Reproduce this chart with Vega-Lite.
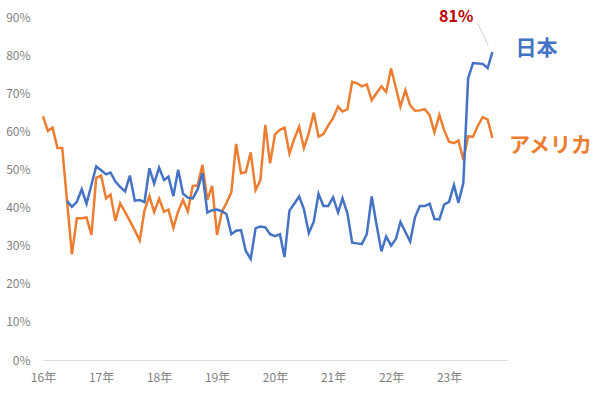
{
  "$schema": "https://vega.github.io/schema/vega-lite/v6.json",
  "width": 464,
  "height": 343,
  "autosize": {"type": "none"},
  "padding": {"left": 43, "top": 17, "right": 93, "bottom": 35},
  "background": "white",
  "config": {"view": {"stroke": null}, "font": "Noto Sans CJK JP"},
  "datasets": {
    "usa": [
      {"date":"2016-01-01","v":63.9},{"date":"2016-02-01","v":60.1},{"date":"2016-03-01","v":61},{"date":"2016-04-01","v":55.6},{"date":"2016-05-01","v":55.6},{"date":"2016-06-01","v":41.5},{"date":"2016-07-01","v":27.7},{"date":"2016-08-01","v":37.2},{"date":"2016-09-01","v":37.2},{"date":"2016-10-01","v":37.4},{"date":"2016-11-01","v":32.8},{"date":"2016-12-01","v":47.8},
      {"date":"2017-01-01","v":48.4},{"date":"2017-02-01","v":42.4},{"date":"2017-03-01","v":43.4},{"date":"2017-04-01","v":36.5},{"date":"2017-05-01","v":41.1},{"date":"2017-06-01","v":38.8},{"date":"2017-07-01","v":36.5},{"date":"2017-08-01","v":34},{"date":"2017-09-01","v":31.4},{"date":"2017-10-01","v":39.2},{"date":"2017-11-01","v":43},{"date":"2017-12-01","v":38.8},
      {"date":"2018-01-01","v":42.3},{"date":"2018-02-01","v":38.9},{"date":"2018-03-01","v":39.5},{"date":"2018-04-01","v":34.7},{"date":"2018-05-01","v":39},{"date":"2018-06-01","v":42},{"date":"2018-07-01","v":39},{"date":"2018-08-01","v":45.7},{"date":"2018-09-01","v":45.8},{"date":"2018-10-01","v":51.2},{"date":"2018-11-01","v":42},{"date":"2018-12-01","v":45.7},
      {"date":"2019-01-01","v":32.8},{"date":"2019-02-01","v":38.9},{"date":"2019-03-01","v":41.2},{"date":"2019-04-01","v":44},{"date":"2019-05-01","v":56.7},{"date":"2019-06-01","v":49},{"date":"2019-07-01","v":49.3},{"date":"2019-08-01","v":54.5},{"date":"2019-09-01","v":44.6},{"date":"2019-10-01","v":47.2},{"date":"2019-11-01","v":61.7},{"date":"2019-12-01","v":51.6},
      {"date":"2020-01-01","v":59.2},{"date":"2020-02-01","v":60.4},{"date":"2020-03-01","v":61},{"date":"2020-04-01","v":54.2},{"date":"2020-05-01","v":58},{"date":"2020-06-01","v":61.2},{"date":"2020-07-01","v":55.6},{"date":"2020-08-01","v":59.5},{"date":"2020-09-01","v":64.9},{"date":"2020-10-01","v":58.6},{"date":"2020-11-01","v":59.3},{"date":"2020-12-01","v":61.5},
      {"date":"2021-01-01","v":63.5},{"date":"2021-02-01","v":66.5},{"date":"2021-03-01","v":65.2},{"date":"2021-04-01","v":65.8},{"date":"2021-05-01","v":73},{"date":"2021-06-01","v":72.6},{"date":"2021-07-01","v":71.8},{"date":"2021-08-01","v":72.3},{"date":"2021-09-01","v":68.2},{"date":"2021-10-01","v":70},{"date":"2021-11-01","v":71.8},{"date":"2021-12-01","v":70.3},
      {"date":"2022-01-01","v":76.5},{"date":"2022-02-01","v":71.3},{"date":"2022-03-01","v":66.5},{"date":"2022-04-01","v":70.8},{"date":"2022-05-01","v":66.8},{"date":"2022-06-01","v":65.4},{"date":"2022-07-01","v":65.5},{"date":"2022-08-01","v":65.8},{"date":"2022-09-01","v":64.2},{"date":"2022-10-01","v":59.7},{"date":"2022-11-01","v":64.3},{"date":"2022-12-01","v":60.3},
      {"date":"2023-01-01","v":57.3},{"date":"2023-02-01","v":56.9},{"date":"2023-03-01","v":57.6},{"date":"2023-04-01","v":52.5},{"date":"2023-05-01","v":58.7},{"date":"2023-06-01","v":58.6},{"date":"2023-07-01","v":61.4},{"date":"2023-08-01","v":63.7},{"date":"2023-09-01","v":63.1},{"date":"2023-10-01","v":58.3}
    ],
    "japan": [
      {"date":"2016-06-01","v":41.7},{"date":"2016-07-01","v":40.2},{"date":"2016-08-01","v":41.5},{"date":"2016-09-01","v":44.8},{"date":"2016-10-01","v":41},{"date":"2016-11-01","v":46},{"date":"2016-12-01","v":50.8},
      {"date":"2017-01-01","v":49.8},{"date":"2017-02-01","v":48.7},{"date":"2017-03-01","v":49.2},{"date":"2017-04-01","v":46.8},{"date":"2017-05-01","v":45.4},{"date":"2017-06-01","v":44.2},{"date":"2017-07-01","v":48.4},{"date":"2017-08-01","v":41.8},{"date":"2017-09-01","v":42},{"date":"2017-10-01","v":41.4},{"date":"2017-11-01","v":50.3},{"date":"2017-12-01","v":46.3},
      {"date":"2018-01-01","v":50.5},{"date":"2018-02-01","v":47.2},{"date":"2018-03-01","v":48.1},{"date":"2018-04-01","v":43},{"date":"2018-05-01","v":49.9},{"date":"2018-06-01","v":43.6},{"date":"2018-07-01","v":42.6},{"date":"2018-08-01","v":42.4},{"date":"2018-09-01","v":44.8},{"date":"2018-10-01","v":49},{"date":"2018-11-01","v":38.7},{"date":"2018-12-01","v":39.3},
      {"date":"2019-01-01","v":39.5},{"date":"2019-02-01","v":39},{"date":"2019-03-01","v":38.3},{"date":"2019-04-01","v":33},{"date":"2019-05-01","v":33.9},{"date":"2019-06-01","v":34.1},{"date":"2019-07-01","v":28.6},{"date":"2019-08-01","v":26.5},{"date":"2019-09-01","v":34.6},{"date":"2019-10-01","v":35},{"date":"2019-11-01","v":34.8},{"date":"2019-12-01","v":33},
      {"date":"2020-01-01","v":32.5},{"date":"2020-02-01","v":33},{"date":"2020-03-01","v":27},{"date":"2020-04-01","v":39.2},{"date":"2020-05-01","v":41},{"date":"2020-06-01","v":42.9},{"date":"2020-07-01","v":39.6},{"date":"2020-08-01","v":33.3},{"date":"2020-09-01","v":36.3},{"date":"2020-10-01","v":43.6},{"date":"2020-11-01","v":40.4},{"date":"2020-12-01","v":40.4},
      {"date":"2021-01-01","v":42.7},{"date":"2021-02-01","v":38.7},{"date":"2021-03-01","v":42.4},{"date":"2021-04-01","v":38.5},{"date":"2021-05-01","v":30.8},{"date":"2021-06-01","v":30.6},{"date":"2021-07-01","v":30.4},{"date":"2021-08-01","v":33},{"date":"2021-09-01","v":42.9},{"date":"2021-10-01","v":35.6},{"date":"2021-11-01","v":28.5},{"date":"2021-12-01","v":32.4},
      {"date":"2022-01-01","v":30},{"date":"2022-02-01","v":31.8},{"date":"2022-03-01","v":36.2},{"date":"2022-04-01","v":33.6},{"date":"2022-05-01","v":31.1},{"date":"2022-06-01","v":37.5},{"date":"2022-07-01","v":40.4},{"date":"2022-08-01","v":40.4},{"date":"2022-09-01","v":41},{"date":"2022-10-01","v":37},{"date":"2022-11-01","v":36.9},{"date":"2022-12-01","v":40.8},
      {"date":"2023-01-01","v":41.5},{"date":"2023-02-01","v":45.9},{"date":"2023-03-01","v":41.3},{"date":"2023-04-01","v":46.4},{"date":"2023-05-01","v":73.9},{"date":"2023-06-01","v":77.9},{"date":"2023-07-01","v":77.8},{"date":"2023-08-01","v":77.7},{"date":"2023-09-01","v":76.6},{"date":"2023-10-01","v":80.8}
    ],
    "labels": [
      {"date":"2024-07-05","v":81.6,"text":"日本","series":"日本"},
      {"date":"2024-10-01","v":56.2,"text":"アメリカ","series":"アメリカ"}
    ],
    "callout": [
      {"date":"2023-02-15","v":90,"text":"81%"}
    ],
    "leader": [
      {"date":"2023-07-01","v":88.3,"date2":"2023-09-05","v2":82.5}
    ]
  },
  "encoding": {
    "x": {
      "field": "date", "type": "temporal",
      "scale": {"type": "utc", "domain": [{"year":2016,"month":1,"date":1,"utc":true},{"year":2024,"month":1,"date":1,"utc":true}]},
      "axis": {
        "title": null,
        "values": [{"year":2016,"month":1,"date":1,"utc":true},{"year":2017,"month":1,"date":1,"utc":true},{"year":2018,"month":1,"date":1,"utc":true},{"year":2019,"month":1,"date":1,"utc":true},{"year":2020,"month":1,"date":1,"utc":true},{"year":2021,"month":1,"date":1,"utc":true},{"year":2022,"month":1,"date":1,"utc":true},{"year":2023,"month":1,"date":1,"utc":true}],
        "labelExpr": "utcFormat(datum.value, '%y') + '年'",
        "labelFlush": false, "labelOverlap": false,
        "grid": false, "ticks": false, "tickSize": 0,
        "domainColor": "#d9d9d9", "domainWidth": 1,
        "labelColor": "#7f7f7f", "labelFontSize": 12, "labelPadding": 12, "labelFont": "Noto Sans CJK JP"
      }
    },
    "y": {
      "field": "v", "type": "quantitative",
      "scale": {"domain": [0, 90], "nice": false},
      "axis": {
        "title": null, "values": [0,10,20,30,40,50,60,70,80,90],
        "labelExpr": "datum.value + '%'",
        "grid": false, "ticks": false, "tickSize": 0, "domain": false,
        "labelColor": "#7f7f7f", "labelFontSize": 12, "labelPadding": 13, "labelFont": "Noto Sans CJK JP"
      }
    }
  },
  "layer": [
    {"data": {"name": "usa"}, "mark": {"type": "line", "color": "#ED7D31", "strokeWidth": 2.5}},
    {"data": {"name": "japan"}, "mark": {"type": "line", "color": "#4472C4", "strokeWidth": 2.5}},
    {"data": {"name": "leader"}, "mark": {"type": "rule", "color": "#d0d0d0", "strokeWidth": 1},
     "encoding": {"x2": {"field": "date2"}, "y2": {"field": "v2"}}},
    {"data": {"name": "labels"}, "mark": {"type": "text", "fontSize": 21, "fontWeight": "bold", "align": "center", "baseline": "middle", "font": "Noto Sans CJK JP"},
     "encoding": {"text": {"field": "text"}, "color": {"field": "series", "type": "nominal", "scale": {"domain": ["日本","アメリカ"], "range": ["#4472C4","#ED7D31"]}, "legend": null}}},
    {"data": {"name": "callout"}, "mark": {"type": "text", "fontSize": 16, "fontWeight": "bold", "align": "center", "baseline": "middle", "color": "#C00000", "font": "Noto Sans CJK JP"},
     "encoding": {"text": {"field": "text"}}}
  ]
}
